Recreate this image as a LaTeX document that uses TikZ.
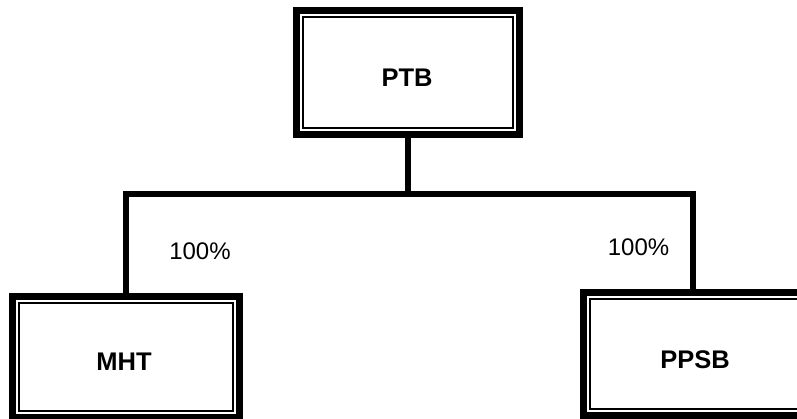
\documentclass[tikz,border=0pt]{standalone}
\usepackage{fontspec}
\setmainfont{Liberation Sans}
\begin{document}
\begin{tikzpicture}[x=1pt,y=-1pt,
  box/.style={draw=black, line width=7pt, inner sep=0pt, outer sep=0pt, fill=white},
  innerline/.style={draw=black, line width=1.4pt},
  conn/.style={draw=black, line width=6pt, line join=miter},
  boxlabel/.style={font=\fontsize{25.5}{30}\selectfont\bfseries, anchor=base, inner sep=0pt},
  pct/.style={font=\fontsize{24}{28}\selectfont, anchor=base, inner sep=0pt}]
\clip (0,0) rectangle (797,419);
\fill[white] (0,0) rectangle (797,419);
% boxes
\node[box, minimum width=223pt, minimum height=124pt] (ptb) at (408,72.5) {};
\node[box, minimum width=227pt, minimum height=120.5pt] (mht) at (126,357) {};
\node[box, minimum width=228.5pt, minimum height=123pt] (ppsb) at (697.75,354) {};
\foreach \b in {ptb,mht,ppsb}{
  \draw[innerline] ([xshift=6.4pt,yshift=-6.4pt]\b.north west) rectangle ([xshift=-6.4pt,yshift=6.4pt]\b.south east);
}
% connectors
\coordinate (barL) at (126,194);
\coordinate (barR) at (693,194);
\draw[conn] (ptb.south) -- (ptb.south |- barL);
\draw[conn] (barL |- mht.north) -- (barL) -- (barR) -- (barR |- ppsb.north);
% labels
\node[boxlabel] (tptb) at (407,87) {PTB};
\node[boxlabel] (tmht) at (124,370) {MHT};
\node[boxlabel] (tppsb) at (695,368) {PPSB};
\node[pct] (pl) at (200,260) {100\%};
\node[pct] (pr) at (638.5,256) {100\%};
\end{tikzpicture}
\end{document}
